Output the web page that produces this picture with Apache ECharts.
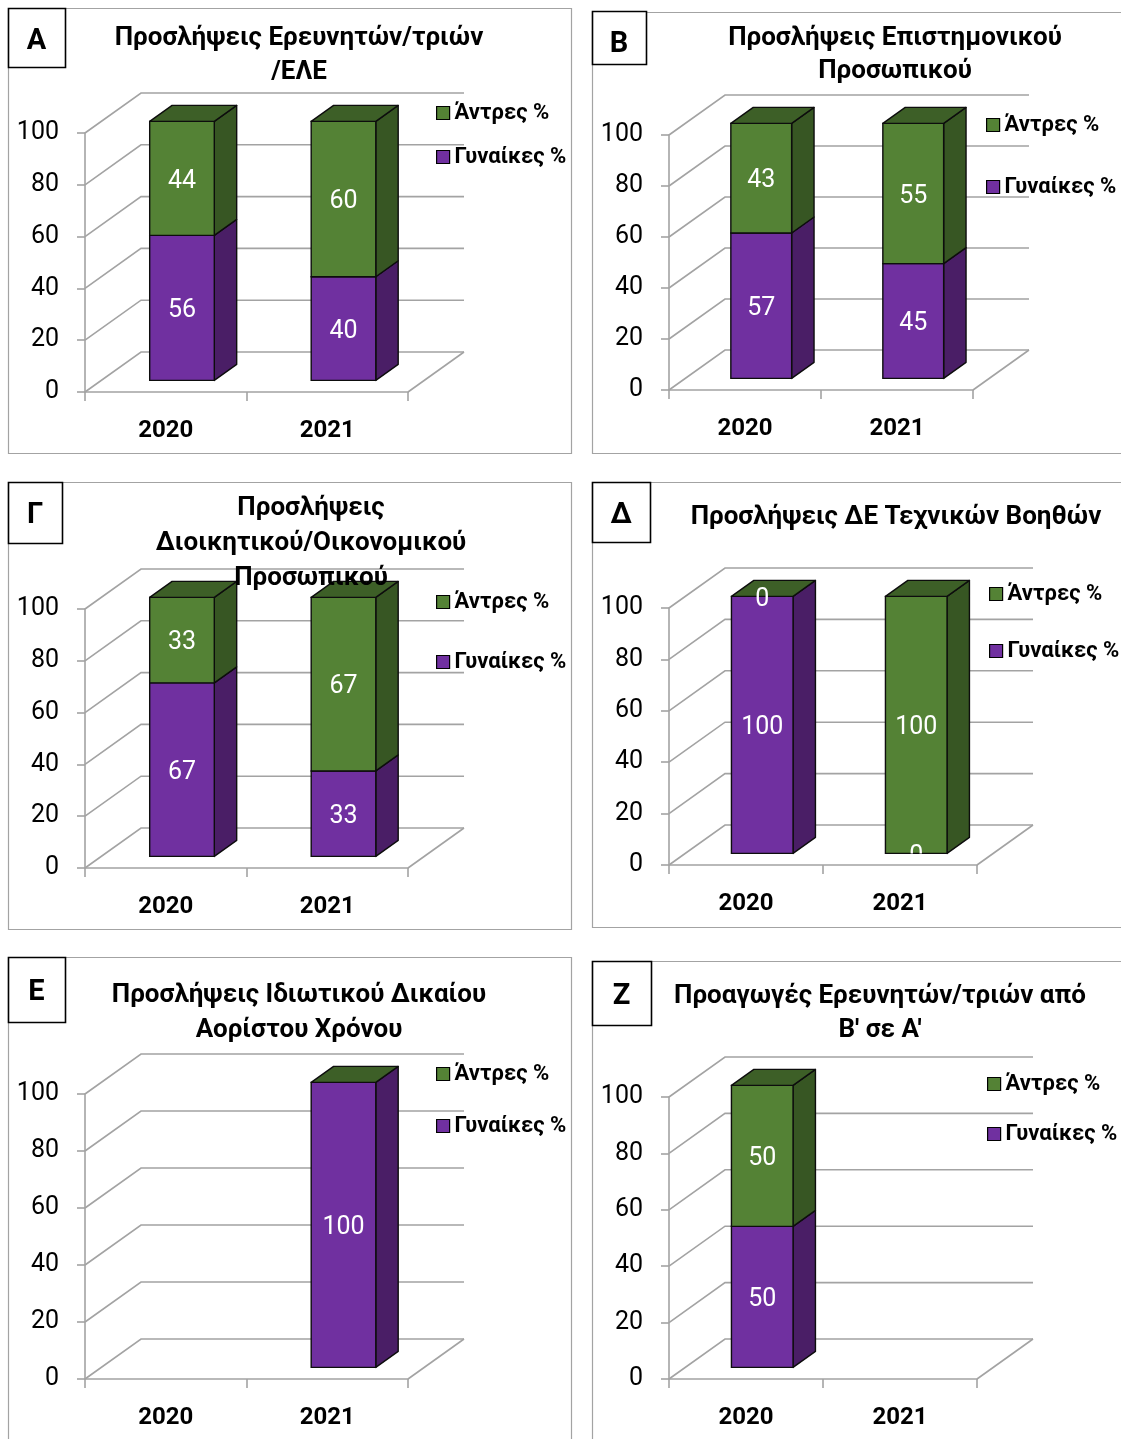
<!DOCTYPE html>
<html>
<head>
<meta charset="utf-8">
<script src="https://cdn.jsdelivr.net/npm/echarts@6/dist/echarts.min.js"></script>
<style>
  html, body { margin: 0; padding: 0; background: #fff; }
  #chart { width: 1121px; height: 1439px; }
</style>
</head>
<body>
<div id="chart"></div>
<script>
// ---- data ----
const years = ['2020', '2021'];
const yTicks = [0, 20, 40, 60, 80, 100];
const menName = 'Άντρες %';
const womenName = 'Γυναίκες %';

const womenA = [56, 40];
const menA = [44, 60];
const womenB = [57, 45];
const menB = [43, 55];
const womenG = [67, 33];
const menG = [33, 67];
const womenD = [100, 0];
const menD = [0, 100];
const womenE = [null, 100];
const menE = [null, 0];
const womenZ = [50, null];
const menZ = [50, null];

const titleA = ['Προσλήψεις Ερευνητών/τριών', '/ΕΛΕ'];
const titleB = ['Προσλήψεις Επιστημονικού', 'Προσωπικού'];
const titleG = ['Προσλήψεις', 'Διοικητικού/Οικονομικού', 'Προσωπικού'];
const titleD = ['Προσλήψεις ΔΕ Τεχνικών Βοηθών'];
const titleE = ['Προσλήψεις Ιδιωτικού Δικαίου', 'Αορίστου Χρόνου'];
const titleZ = ['Προαγωγές Ερευνητών/τριών από', "Β' σε Α'"];

const letters = ['Α', 'Β', 'Γ', 'Δ', 'Ε', 'Ζ'];

// ---- styling ----
const FONT = 'Roboto, "Noto Sans", sans-serif';
const GRID = '#a3a3a3';
const FRAME = '#a3a3a3';
const EDGE = '#0d0d0d';
const GREEN = '#548235', GREEN_SIDE = '#375623', GREEN_TOP = '#3d5f27';
const PURPLE = '#7030a0', PURPLE_SIDE = '#4a1e66';
const DEPTH_X = 56, DEPTH_Y = -40;     // pseudo-3D depth of the plot box
const FRONT = 0.29, BACK = 0.69;       // bar front / back face inside the depth
const BAR_WIDTH = 0.4;                 // fraction of the category band

// ---- panel layout ----
const panels = [
  { women: womenA, men: menA, title: titleA, showZero: true,
    frame: [8, 8, 563, 445], box: [8, 8, 57, 59], letterY: 42,
    plot: [85, 133, 323, 259], titleX: 299, titleY: 38, lineGap: 34,
    legend: [436, 112, 44] },
  { women: womenB, men: menB, title: titleB, showZero: true,
    frame: [592, 12, 600, 441], box: [592, 11, 54, 53], letterY: 45,
    plot: [669, 135, 304, 255], titleX: 895, titleY: 38, lineGap: 33,
    legend: [986, 124, 62] },
  { women: womenG, men: menG, title: titleG, showZero: true,
    frame: [8, 482, 563, 447], box: [8, 482, 54, 61], letterY: 516,
    plot: [85, 609, 323, 259], titleX: 311, titleY: 508, lineGap: 35,
    legend: [436, 601, 60] },
  { women: womenD, men: menD, title: titleD, showZero: true,
    frame: [592, 482, 600, 445], box: [592, 482, 58, 60], letterY: 516,
    plot: [669, 608, 308, 257], titleX: 896, titleY: 517, lineGap: 34,
    legend: [989, 593, 57] },
  { women: womenE, men: menE, title: titleE, showZero: false,
    frame: [8, 957, 563, 600], box: [8, 957, 57, 65], letterY: 993,
    plot: [85, 1094, 323, 285], titleX: 299, titleY: 995, lineGap: 35,
    legend: [436, 1073, 52] },
  { women: womenZ, men: menZ, title: titleZ, showZero: true,
    frame: [592, 961, 600, 600], box: [592, 961, 59, 64], letterY: 997,
    plot: [669, 1097, 308, 282], titleX: 880, titleY: 996, lineGap: 34,
    legend: [987, 1083, 50] }
];

// back wall + floor grid lines, one item per tick value
function wallRenderer(params, api) {
  const cs = params.coordSys;
  const v = api.value(1);
  const y = api.coord([0, v])[1];
  const x0 = cs.x, x1 = cs.x + cs.width;
  const children = [{
    type: 'polyline',
    shape: { points: [[x0, y], [x0 + DEPTH_X, y + DEPTH_Y], [x1 + DEPTH_X, y + DEPTH_Y]] },
    style: { stroke: GRID, lineWidth: 1.6, fill: 'none' }
  }];
  if (v === yTicks[0]) {
    children.push({
      type: 'line',
      shape: { x1: x1, y1: y, x2: x1 + DEPTH_X, y2: y + DEPTH_Y },
      style: { stroke: GRID, lineWidth: 1.6 }
    });
  }
  return { type: 'group', children };
}

// front face box of a segment [catIndex, low, high]
function segmentBox(api) {
  const cat = api.value(0), lo = api.value(1), hi = api.value(2);
  const band = api.size([1, 0])[0];
  const w = band * BAR_WIDTH;
  const base = api.coord([cat, lo]);
  const head = api.coord([cat, hi]);
  const floor = api.coord([cat, yTicks[0]]);
  const ox = DEPTH_X * FRONT, oy = DEPTH_Y * FRONT;
  const xl = base[0] - w / 2 + ox;
  return { xl, xr: xl + w, w, yb: base[1] + oy, yt: head[1] + oy, bottom: floor[1] + oy };
}

// one stacked segment of a pseudo-3D column
function segmentRenderer(front, side, isTop) {
  return function (params, api) {
    const b = segmentBox(api);
    const dx = DEPTH_X * (BACK - FRONT), dy = DEPTH_Y * (BACK - FRONT);
    const children = [];
    if (b.yb - b.yt > 0.5) {
      children.push({
        type: 'polygon',
        shape: { points: [[b.xr, b.yt], [b.xr + dx, b.yt + dy], [b.xr + dx, b.yb + dy], [b.xr, b.yb]] },
        style: { fill: side, stroke: EDGE, lineWidth: 1.4, lineJoin: 'round' }
      });
      children.push({
        type: 'rect',
        shape: { x: b.xl, y: b.yt, width: b.w, height: b.yb - b.yt },
        style: { fill: front, stroke: EDGE, lineWidth: 1.4 }
      });
    }
    if (isTop) {
      children.push({
        type: 'polygon',
        shape: { points: [[b.xl, b.yt], [b.xl + dx, b.yt + dy], [b.xr + dx, b.yt + dy], [b.xr, b.yt]] },
        style: { fill: GREEN_TOP, stroke: EDGE, lineWidth: 1.4, lineJoin: 'round' }
      });
    }
    return { type: 'group', children };
  };
}

// value labels on the front faces, cut off below the foot of the column
function labelRenderer(params, api) {
  const b = segmentBox(api);
  const val = api.value(3);
  const tx = (b.xl + b.xr) / 2, ty = (b.yt + b.yb) / 2 + 3;
  return {
    type: 'text',
    x: tx, y: ty,
    style: {
      text: String(val), fill: '#fff', font: '25px ' + FONT,
      textAlign: 'center', textVerticalAlign: 'middle',
      align: 'center', verticalAlign: 'middle'
    },
    clipPath: { type: 'rect', shape: { x: -b.w, y: -400, width: 2 * b.w, height: 400 + (b.bottom - ty) } }
  };
}

const grid = [], xAxis = [], yAxis = [], series = [], legend = [], graphic = [];

panels.forEach((p, i) => {
  grid.push({ left: p.plot[0], top: p.plot[1], width: p.plot[2], height: p.plot[3] });
  xAxis.push({
    type: 'category', gridIndex: i, data: years,
    axisLine: { lineStyle: { color: GRID, width: 1.6 } },
    axisTick: { show: true, length: 9, lineStyle: { color: GRID, width: 1.6 } },
    axisLabel: { margin: 27, fontFamily: FONT, fontWeight: 'bold', fontSize: 24, color: '#000' },
    splitLine: { show: false }
  });
  yAxis.push({
    type: 'value', gridIndex: i,
    min: yTicks[0], max: yTicks[yTicks.length - 1], interval: yTicks[1] - yTicks[0],
    axisLine: { show: true, lineStyle: { color: GRID, width: 1.6 } },
    axisTick: { show: true, length: 8, lineStyle: { color: GRID, width: 1.6 } },
    axisLabel: { margin: 26, fontFamily: FONT, fontSize: 25, color: '#000', padding: [6, 0, 0, 0] },
    splitLine: { show: false }
  });

  series.push({
    type: 'custom', xAxisIndex: i, yAxisIndex: i, silent: true, clip: false, z: 1,
    data: yTicks.map(v => [0, v]),
    renderItem: wallRenderer
  });

  const womenData = [], menData = [], labelData = [];
  years.forEach((y, k) => {
    const wv = p.women[k], mv = p.men[k];
    if (wv != null) {
      womenData.push([k, 0, wv, wv]);
      if (wv !== 0 || p.showZero) labelData.push([k, 0, wv, wv]);
    }
    if (mv != null) {
      const base = wv != null ? wv : 0;
      menData.push([k, base, base + mv, mv]);
      if (mv !== 0 || p.showZero) labelData.push([k, base, base + mv, mv]);
    }
  });
  series.push({
    type: 'custom', name: womenName, xAxisIndex: i, yAxisIndex: i, clip: false, z: 2,
    itemStyle: { color: PURPLE },
    encode: { x: 0, y: [1, 2] },
    data: womenData,
    renderItem: segmentRenderer(PURPLE, PURPLE_SIDE, false)
  });
  series.push({
    type: 'custom', name: menName, xAxisIndex: i, yAxisIndex: i, clip: false, z: 3,
    itemStyle: { color: GREEN },
    encode: { x: 0, y: [1, 2] },
    data: menData,
    renderItem: segmentRenderer(GREEN, GREEN_SIDE, true)
  });
  series.push({
    type: 'custom', xAxisIndex: i, yAxisIndex: i, silent: true, clip: false, z: 4,
    encode: { x: 0, y: [1, 2] },
    data: labelData,
    renderItem: labelRenderer
  });

  legend.push({
    data: [menName, womenName], orient: 'vertical',
    left: p.legend[0], top: p.legend[1] - 10, itemGap: p.legend[2] - 22,
    itemWidth: 13, itemHeight: 13, icon: 'rect', padding: 0, selectedMode: false,
    itemStyle: { borderColor: '#000', borderWidth: 1.2 },
    textStyle: { fontFamily: FONT, fontWeight: 'bold', fontSize: 22, lineHeight: 22, color: '#000' }
  });

  // panel frame, letter box, letter and title
  graphic.push({
    type: 'rect', z: 0, silent: true,
    shape: { x: p.frame[0] + 0.5, y: p.frame[1] + 0.5, width: p.frame[2], height: p.frame[3] },
    style: { fill: 'none', stroke: FRAME, lineWidth: 1.2 }
  });
  graphic.push({
    type: 'rect', z: 50, silent: true,
    shape: { x: p.box[0] + 0.5, y: p.box[1] + 0.5, width: p.box[2], height: p.box[3] },
    style: { fill: '#fff', stroke: '#000', lineWidth: 1.6 }
  });
  graphic.push({
    type: 'text', z: 51, silent: true,
    x: p.box[0] + p.box[2] / 2, y: p.letterY,
    style: {
      text: letters[i], fill: '#000', font: 'bold 29px ' + FONT,
      textAlign: 'center', textVerticalAlign: 'middle', align: 'center', verticalAlign: 'middle'
    }
  });
  p.title.forEach((line, j) => {
    graphic.push({
      type: 'text', z: 60, silent: true,
      x: p.titleX, y: p.titleY + j * p.lineGap,
      style: {
        text: line, fill: '#000', font: 'bold 26px ' + FONT,
        textAlign: 'center', textVerticalAlign: 'middle', align: 'center', verticalAlign: 'middle'
      }
    });
  });
});

const chart = echarts.init(document.getElementById('chart'), null, { renderer: 'canvas' });
chart.setOption({
  animation: false,
  backgroundColor: '#fff',
  grid, xAxis, yAxis, series, legend,
  graphic: { elements: graphic }
});
</script>
</body>
</html>
